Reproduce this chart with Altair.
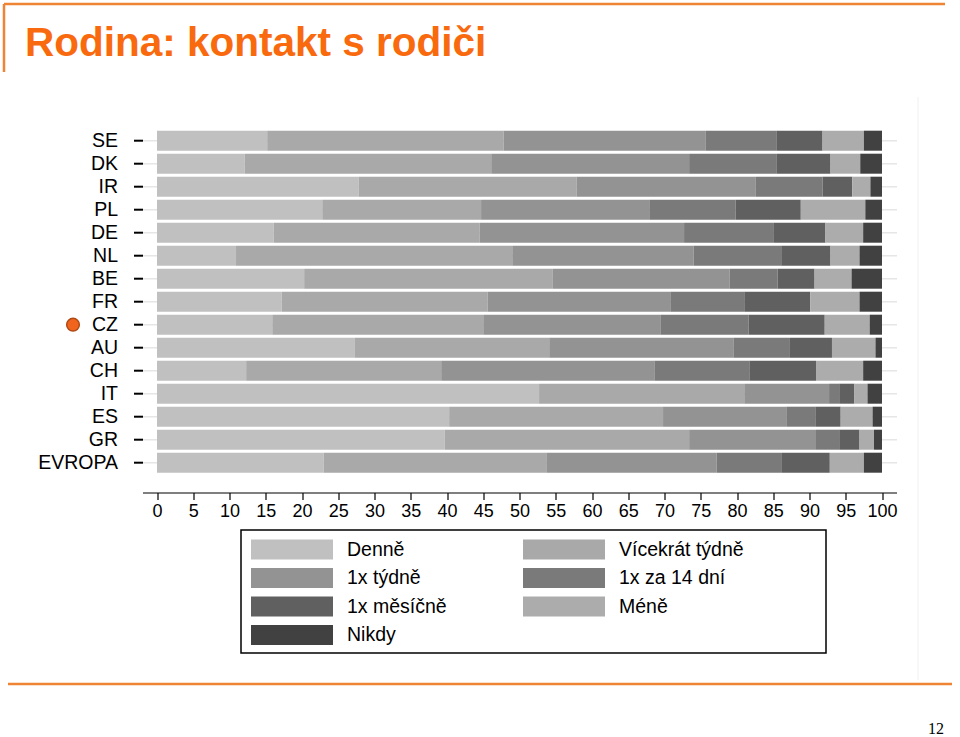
import altair as alt
import pandas as pd

# ---- data (percent shares) ----
zeme = ["SE", "DK", "IR", "PL", "DE", "NL", "BE", "FR", "CZ", "AU", "CH", "IT", "ES", "GR", "EVROPA"]
kategorie = ["Denně", "Vícekrát týdně", "1x týdně", "1x za 14 dní", "1x měsíčně", "Méně", "Nikdy"]
barvy = ["#c0c0c0", "#a9a9a9", "#939393", "#7a7a7a", "#606060", "#acacac", "#414141"]

denne =      [15.2, 12.1, 27.8, 22.8, 16.1, 10.9, 20.3, 17.2, 15.9, 27.3, 12.3, 52.7, 40.3, 39.7, 23.0]
vicekrat =   [32.6, 34.0, 30.1, 21.9, 28.4, 38.1, 34.3, 28.4, 29.1, 26.8, 26.9, 28.3, 29.5, 33.7, 30.7]
tydne =      [27.9, 27.3, 24.7, 23.2, 28.2, 25.0, 24.4, 25.2, 24.5, 25.4, 29.4, 11.7, 17.0, 17.5, 23.5]
za14dni =    [9.8, 12.1, 9.2, 11.9, 12.3, 12.1, 6.6, 10.2, 12.1, 7.8, 13.1, 1.4, 4.0, 3.2, 9.0]
mesicne =    [6.3, 7.4, 4.1, 9.0, 7.2, 6.8, 5.1, 9.1, 10.5, 5.8, 9.2, 2.1, 3.5, 2.8, 6.6]
mene =       [5.7, 4.1, 2.5, 8.9, 5.2, 4.0, 5.1, 6.8, 6.2, 6.0, 6.5, 1.8, 4.4, 2.0, 4.7]
nikdy =      [2.5, 3.0, 1.6, 2.3, 2.6, 3.1, 4.2, 3.1, 1.7, 0.9, 2.6, 2.0, 1.3, 1.1, 2.5]
serie = [denne, vicekrat, tydne, za14dni, mesicne, mene, nikdy]

x_ticks = list(range(0, 101, 5))
nadpis = "Rodina: kontakt s rodiči"
strana = "12"
zvyrazneno = ["CZ"]

rows = []
for i, (k, vals) in enumerate(zip(kategorie, serie)):
    for z, v in zip(zeme, vals):
        rows.append({"zeme": z, "kategorie": k, "poradi": i, "podil": v})
df = pd.DataFrame(rows)

# ---- layout constants ----
OX, OY = 142.5, 129.2
W, H = 754, 345
FONT = "Liberation Sans"
ORANGE = "#f96a0e"
LINE_ORANGE = "#ef8434"

xscale = alt.Scale(domain=[-2, 102], nice=False, zero=False)
yscale = alt.Scale(domain=zeme, paddingInner=0.13, paddingOuter=0.065)
cscale = alt.Scale(domain=kategorie, range=barvy)

bars = alt.Chart(df).mark_bar().encode(
    x=alt.X("podil:Q", stack="zero", scale=xscale,
            axis=alt.Axis(values=x_ticks, title=None, grid=False, offset=18.3,
                          domainColor="black", domainWidth=1.2, tickColor="black",
                          tickSize=7, tickWidth=1.2, labelFontSize=18, labelFont=FONT,
                          labelColor="black", labelPadding=3, labelFlush=False,
                          labelOverlap=False)),
    y=alt.Y("zeme:N", sort=zeme, scale=yscale,
            axis=alt.Axis(title=None, domain=False, tickSize=9, tickWidth=2,
                          tickColor="black", labelFontSize=19.5, labelFont=FONT,
                          labelColor="black", labelPadding=16, grid=True,
                          gridColor="#e6e6e6", gridWidth=1.5, bandPosition=0.5)),
    color=alt.Color("kategorie:N", scale=cscale, sort=kategorie,
                    legend=alt.Legend(orient="none", legendX=251 - OX, legendY=538.5 - OY,
                                      columns=2, title=None, direction="horizontal",
                                      symbolType="M-1,-0.244H1V0.244H-1Z", symbolSize=6724,
                                      symbolStrokeWidth=0, symbolOpacity=1, clipHeight=22,
                                      labelFontSize=19.5, labelFont=FONT, labelColor="black",
                                      labelOffset=14, rowPadding=6.5, columnPadding=76,
                                      padding=0, labelLimit=400)),
    order=alt.Order("poradi:Q"),
)

one = pd.DataFrame({"a": [0]})


def hrule(x1, x2, y, color, w):
    return alt.Chart(one).mark_rule(color=color, strokeWidth=w).encode(
        x=alt.value(x1 - OX), x2=alt.value(x2 - OX), y=alt.value(y - OY))


def vrule(x, y1, y2, color, w):
    return alt.Chart(one).mark_rule(color=color, strokeWidth=w).encode(
        x=alt.value(x - OX), y=alt.value(y1 - OY), y2=alt.value(y2 - OY))


legend_box = alt.Chart(one).mark_rect(fillOpacity=0, stroke="black", strokeWidth=1.5).encode(
    x=alt.value(241 - OX), x2=alt.value(826 - OX), y=alt.value(530 - OY), y2=alt.value(653 - OY))

title = alt.Chart(one).mark_text(
    text=nadpis, align="left", baseline="alphabetic", font=FONT, fontSize=40.5,
    fontWeight="bold", color=ORANGE).encode(x=alt.value(25 - OX), y=alt.value(56 - OY))

page = alt.Chart(one).mark_text(
    text=strana, align="right", baseline="alphabetic", font="Liberation Serif",
    fontSize=16, color="black").encode(x=alt.value(944 - OX), y=alt.value(734 - OY))

marker = alt.Chart(pd.DataFrame({"zeme": zvyrazneno})).mark_point(
    filled=True, shape="circle", size=160, fill="#f0641e", stroke="#b04a14",
    strokeWidth=1.5, opacity=1).encode(
    y=alt.Y("zeme:N", sort=zeme, scale=yscale), x=alt.value(73 - OX))

chart = alt.layer(
    vrule(918, 97, 680, "#f0f0f0", 1),
    hrule(4, 945, 4, LINE_ORANGE, 2.5),
    vrule(4, 4, 72, LINE_ORANGE, 2.5),
    hrule(8, 952, 684, LINE_ORANGE, 2.5),
    bars,
    legend_box,
    title,
    page,
    marker,
).properties(
    width=W, height=H,
    autosize=alt.AutoSizeParams(type="none"),
    padding={"left": OX, "top": OY, "right": 960 - OX - W, "bottom": 737 - OY - H},
    background="white",
).configure_view(stroke=None)

chart.save("out.html", embed_options={"renderer": "svg", "actions": False})
